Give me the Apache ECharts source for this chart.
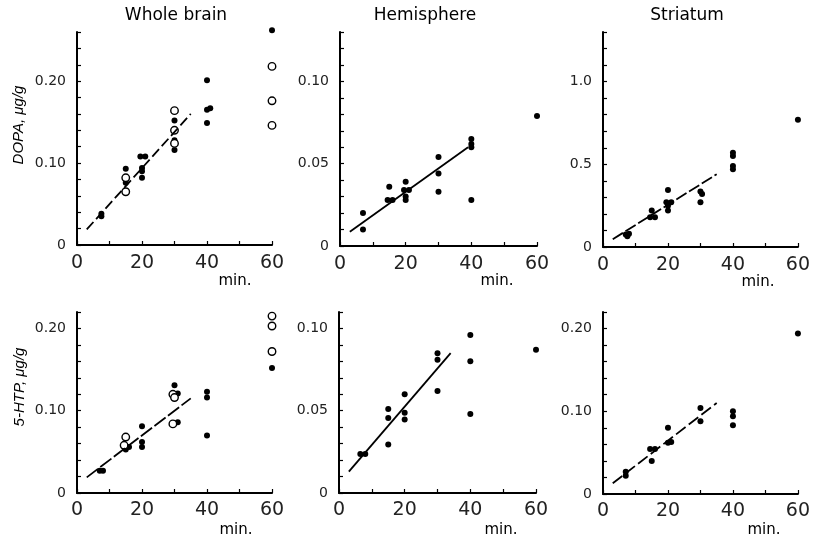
<!DOCTYPE html>
<html>
<head>
<meta charset="utf-8">
<script src="https://cdn.jsdelivr.net/npm/echarts@6/dist/echarts.min.js"></script>
<style>
html,body{margin:0;padding:0;background:#fff;}
#chart{width:813px;height:542px;}
</style>
</head>
<body>
<div id="chart"></div>
<script>
// ---- Data (x = min, y = µg/g) ----
const panelTitles = ['Whole brain', 'Hemisphere', 'Striatum'];
const rowTitles = ['DOPA, μg/g', '5-HTP, μg/g'];
const xTickLabels = [0, 20, 40, 60];

// DOPA – whole brain
const dopaWholeFilled = [[7.5,0.038],[7.5,0.035],[15,0.093],[15,0.076],[19.5,0.108],[21,0.108],[20,0.094],[20,0.090],[20,0.082],[30,0.152],[30,0.128],[30,0.116],[40,0.201],[40,0.165],[41,0.167],[40,0.149],[60,0.262]];
const dopaWholeOpen = [[15,0.082],[15,0.065],[30,0.164],[30,0.140],[30,0.124],[60,0.218],[60,0.176],[60,0.146]];
const dopaWholeLine = [[3,0.019],[35,0.160]];

// DOPA – hemisphere
const dopaHemiFilled = [[7,0.020],[7,0.010],[15,0.036],[14.5,0.028],[16,0.028],[20,0.039],[19.5,0.034],[21,0.034],[20,0.030],[20,0.028],[30,0.054],[30,0.044],[30,0.033],[40,0.065],[40,0.062],[40,0.060],[40,0.028],[60,0.079]];
const dopaHemiLine = [[3,0.0087],[39,0.060]];

// DOPA – striatum
const dopaStriFilled = [[7,0.075],[8,0.08],[7.5,0.065],[15,0.22],[14.5,0.18],[16,0.18],[20,0.345],[19.5,0.27],[21,0.27],[20,0.25],[20,0.22],[30,0.335],[30.5,0.32],[30,0.27],[40,0.57],[40,0.55],[40,0.49],[40,0.47],[60,0.77]];
const dopaStriLine = [[3,0.047],[35,0.44]];

// 5-HTP – whole brain
const htpWholeFilled = [[7,0.027],[8,0.027],[16,0.056],[15,0.053],[20,0.081],[20,0.062],[20,0.056],[30,0.131],[31,0.121],[31,0.086],[40,0.123],[40,0.116],[40,0.070],[60,0.152]];
const htpWholeOpen = [[15,0.068],[14.5,0.058],[29.5,0.120],[30,0.116],[29.5,0.084],[60,0.215],[60,0.203],[60,0.172]];
const htpWholeLine = [[3,0.019],[35,0.115]];

// 5-HTP – hemisphere
const htpHemiFilled = [[6.5,0.0237],[8,0.0237],[15,0.051],[15,0.0456],[15,0.0294],[20,0.060],[20,0.0487],[20,0.0446],[30,0.085],[30,0.081],[30,0.062],[40,0.096],[40,0.080],[40,0.048],[60,0.087]];
const htpHemiLine = [[3,0.013],[34,0.085]];

// 5-HTP – striatum
const htpStriFilled = [[7,0.027],[7,0.022],[14.5,0.0545],[16,0.0545],[15,0.040],[20,0.080],[20,0.062],[21,0.063],[30,0.104],[30,0.088],[40,0.100],[40,0.094],[40,0.083],[60,0.194]];
const htpStriLine = [[3,0.013],[35,0.110]];

// y-axis scales per panel: [max, minor step, labelled every n steps, decimals]
const yScales = [
  [0.26, 0.02, 5, 2],
  [0.13, 0.01, 5, 2],
  [1.3, 0.1, 5, 1],
  [0.22, 0.02, 5, 2],
  [0.11, 0.01, 5, 2],
  [0.22, 0.02, 5, 2]
];

const panels = [
  {filled: dopaWholeFilled, open: dopaWholeOpen, line: dopaWholeLine, dash: [10,4]},
  {filled: dopaHemiFilled, open: [], line: dopaHemiLine, dash: 'solid'},
  {filled: dopaStriFilled, open: [], line: dopaStriLine, dash: [12,3]},
  {filled: htpWholeFilled, open: htpWholeOpen, line: htpWholeLine, dash: [14,3]},
  {filled: htpHemiFilled, open: [], line: htpHemiLine, dash: 'solid'},
  {filled: htpStriFilled, open: [], line: htpStriLine, dash: [12,4]}
];

// ---- Layout ----
const gridBoxes = [
  {left: 77, top: 32, width: 195, height: 213},
  {left: 340, top: 32, width: 197, height: 214},
  {left: 603, top: 32, width: 195, height: 215},
  {left: 77, top: 312, width: 195, height: 181},
  {left: 339, top: 312, width: 197, height: 181},
  {left: 603, top: 312, width: 195, height: 182}
];

const ink = '#000';
const font = 'DejaVu Sans, Liberation Sans, sans-serif';

const grids = [], xAxes = [], yAxes = [], series = [];
gridBoxes.forEach((g, i) => {
  grids.push(Object.assign({containLabel: false}, g));
  xAxes.push({
    type: 'value', gridIndex: i, min: 0, max: 60, interval: 10,
    axisLine: {show: true, lineStyle: {color: ink, width: 2}},
    axisTick: {show: true, inside: true, length: 4, lineStyle: {color: ink, width: 1.2}},
    splitLine: {show: false},
    axisLabel: {
      color: '#222', fontFamily: font, fontSize: 19, margin: i < 3 ? 9 : 8,
      formatter: v => (xTickLabels.indexOf(Math.round(v)) >= 0 ? String(Math.round(v)) : '')
    }
  });
  const [ymax, step, every, dec] = yScales[i];
  yAxes.push({
    type: 'value', gridIndex: i, min: 0, max: ymax, interval: step,
    axisLine: {show: true, lineStyle: {color: ink, width: 2}},
    axisTick: {show: true, inside: true, length: 4, lineStyle: {color: ink, width: 1.2}},
    splitLine: {show: false},
    axisLabel: {
      color: '#222', fontFamily: font, fontSize: 14, margin: 11,
      formatter: v => {
        const k = Math.round(v / step);
        if (k % every !== 0) return '';
        return k === 0 ? '0' : (k * step).toFixed(dec);
      }
    }
  });
  const p = panels[i];
  series.push({
    type: 'line', xAxisIndex: i, yAxisIndex: i, data: p.line,
    symbol: 'none', silent: true,
    lineStyle: {color: ink, width: 1.8, type: p.dash}
  });
  series.push({
    type: 'scatter', xAxisIndex: i, yAxisIndex: i, data: p.filled,
    symbol: 'circle', symbolSize: 6, clip: false,
    itemStyle: {color: ink, opacity: 1}
  });
  if (p.open.length) {
    series.push({
      type: 'scatter', xAxisIndex: i, yAxisIndex: i, data: p.open,
      symbol: 'circle', symbolSize: 7.5, clip: false,
      itemStyle: {color: '#fff', borderColor: ink, borderWidth: 1.4, opacity: 1}
    });
  }
});

const titleX = [176, 425, 687];
const minPos = [[235,281],[497,281],[758,282],[236,530],[501,530],[764,530]];
const graphics = [];
panelTitles.forEach((t, i) => graphics.push({
  type: 'text', x: titleX[i], y: 16,
  style: {text: t, fill: ink, font: '17px ' + font, textAlign: 'center', textVerticalAlign: 'middle'}
}));
minPos.forEach(p => graphics.push({
  type: 'text', x: p[0], y: p[1],
  style: {text: 'min.', fill: ink, font: '15px ' + font, textAlign: 'center', textVerticalAlign: 'middle'}
}));
const rowTitlePos = [[19,125],[20,387]];
rowTitles.forEach((t, i) => graphics.push({
  type: 'text', x: rowTitlePos[i][0], y: rowTitlePos[i][1], rotation: Math.PI / 2,
  style: {text: t, fill: ink, font: 'italic 15px Liberation Sans, sans-serif', textAlign: 'center', textVerticalAlign: 'middle'}
}));

const chart = echarts.init(document.getElementById('chart'), null, {renderer: 'canvas'});
chart.setOption({
  backgroundColor: '#fff',
  animation: false,
  grid: grids,
  xAxis: xAxes,
  yAxis: yAxes,
  series: series,
  graphic: graphics
});
</script>
</body>
</html>
